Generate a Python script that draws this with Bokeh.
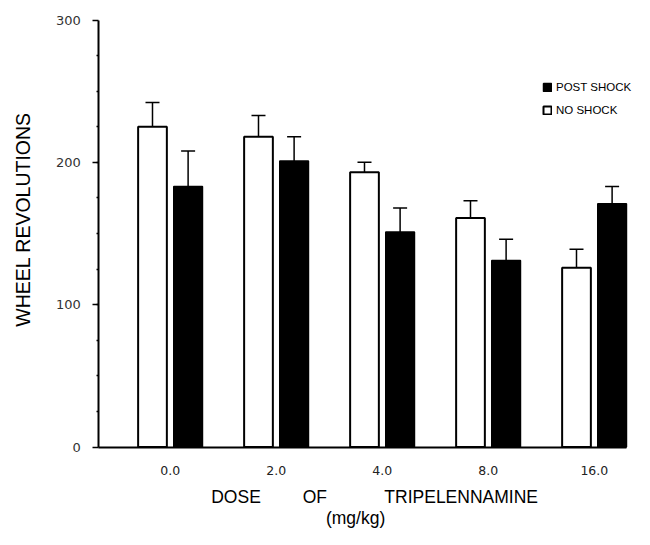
from math import pi
from bokeh.plotting import figure
from bokeh.models import (ColumnDataSource, FixedTicker, Range1d, Label, Legend,
                          LegendItem, Whisker, TeeHead)
from bokeh.transform import dodge
from bokeh.embed import file_html
from bokeh.resources import INLINE

# ---- data ----
dose_labels = ["0.0", "2.0", "4.0", "8.0", "16.0"]
no_shock = [225, 218, 193, 161, 126]
no_shock_err = [17, 15, 7, 12, 13]
post_shock = [183, 201, 151, 131, 171]
post_shock_err = [25, 17, 17, 15, 12]
y_ticks = [0, 100, 200, 300]

groups = list(range(len(dose_labels)))
src_no = ColumnDataSource(dict(x=groups, top=no_shock,
                               upper=[v + e for v, e in zip(no_shock, no_shock_err)]))
src_post = ColumnDataSource(dict(x=groups, top=post_shock,
                                 upper=[v + e for v, e in zip(post_shock, post_shock_err)]))

# frame covers the whole canvas; axes are pinned inside it
X0, X1 = -1.6019, 4.3792
Y0, Y1 = -57.9, 313.7
AXIS_X = -0.6745

p = figure(width=634, height=529, output_backend="svg", toolbar_location=None,
           x_range=Range1d(X0, X1), y_range=Range1d(Y0, Y1), min_border=0)
p.outline_line_color = None
p.grid.grid_line_color = None
p.background_fill_color = "white"
p.border_fill_color = "white"

off = 0.168
bw = 0.271
r_no = p.vbar(x=dodge("x", -off, range=p.x_range), top="top", width=bw, bottom=0,
              source=src_no, fill_color="white", line_color="black", line_width=2)
r_post = p.vbar(x=dodge("x", off, range=p.x_range), top="top", width=bw, bottom=0,
                source=src_post, fill_color="black", line_color="black", line_width=1.5)

for src, o in ((src_no, -off), (src_post, off)):
    w = Whisker(source=src, base=dodge("x", o, range=p.x_range), lower="top", upper="upper",
                dimension="height", line_color="black", line_width=1.5,
                upper_head=TeeHead(size=14, line_color="black", line_width=1.5),
                lower_head=None, level="glyph")
    p.add_layout(w)

# y axis
ya = p.yaxis[0]
ya.fixed_location = AXIS_X
ya.bounds = (0, 300)
ya.ticker = FixedTicker(ticks=y_ticks, minor_ticks=list(range(25, 300, 25)))
ya.axis_line_width = 2
ya.axis_line_color = "black"
ya.major_tick_out = 6
ya.major_tick_in = 0
ya.major_tick_line_width = 1.5
ya.minor_tick_out = 2
ya.minor_tick_in = 0
ya.minor_tick_line_width = 1.5
ya.major_label_standoff = 12
ya.major_label_text_font = "DejaVu Sans"
ya.major_label_text_font_size = "13px"
ya.major_label_text_color = "#333333"

# x axis
xa = p.xaxis[0]
xa.fixed_location = 0
xa.bounds = (AXIS_X, 4.30)
xa.ticker = FixedTicker(ticks=groups, minor_ticks=[])
xa.major_label_overrides = {g: lab for g, lab in zip(groups, dose_labels)}
xa.axis_line_width = 2
xa.axis_line_color = "black"
xa.major_tick_line_color = None
xa.major_tick_out = 0
xa.major_tick_in = 0
xa.minor_tick_line_color = None
xa.major_label_standoff = 19
xa.major_label_text_font = "DejaVu Sans"
xa.major_label_text_font_size = "12.5px"
xa.major_label_text_color = "#222222"

title_font = "Liberation Sans"
for txt, xx in (("DOSE", 0.620), ("OF", 1.363), ("TRIPELENNAMINE", 2.744)):
    p.add_layout(Label(x=xx, y=-35.0, text=txt, text_align="center",
                       text_baseline="alphabetic", text_font=title_font,
                       text_font_size="17.5px", text_color="black"))
p.add_layout(Label(x=1.748, y=-49.5, text="(mg/kg)", text_align="center",
                   text_baseline="alphabetic", text_font=title_font,
                   text_font_size="17.5px", text_color="black"))
p.add_layout(Label(x=-1.390, y=159.9, text="WHEEL REVOLUTIONS", angle=pi / 2,
                   text_align="center", text_baseline="middle", text_font=title_font,
                   text_font_size="19.5px", text_color="black"))

legend = Legend(items=[LegendItem(label="POST SHOCK", renderers=[r_post]),
                       LegendItem(label="NO SHOCK", renderers=[r_no])],
                location=(542, 413), orientation="vertical",
                glyph_width=10, glyph_height=10, label_height=10, spacing=11,
                label_standoff=4, padding=0, margin=0,
                border_line_color=None, background_fill_alpha=0,
                label_text_font=title_font, label_text_font_size="11.5px",
                label_text_color="black")
p.add_layout(legend)

open("out.html", "w").write(file_html(p, INLINE))
